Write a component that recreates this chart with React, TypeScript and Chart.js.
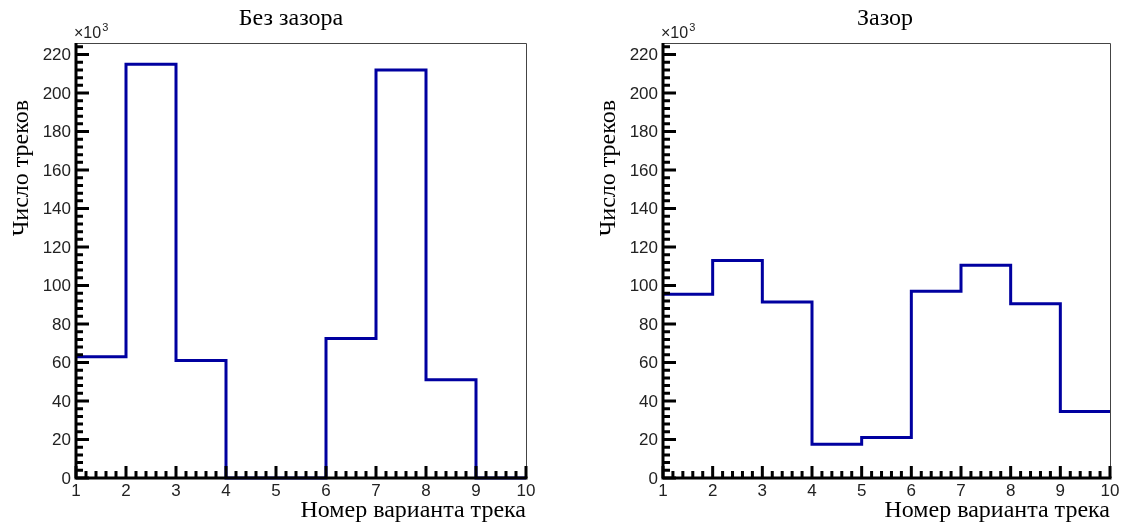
import React, { useEffect, useRef } from "react";
import { Chart, registerables } from "chart.js";

Chart.register(...registerables);

// Histogram bin edges (track variant number) and counts (×10^3)
const binEdges = [1, 2, 3, 4, 5, 6, 7, 8, 9, 10];
const noGapCounts = [63, 215, 61, 0, 0, 72.5, 212, 51, 0];
const gapCounts = [95.5, 113, 91.5, 17.5, 21, 97, 110.5, 90.5, 34.5];
const xTickLabels = ["1", "2", "3", "4", "5", "6", "7", "8", "9", "10"];
const yTickLabels = ["0", "20", "40", "60", "80", "100", "120", "140", "160", "180", "200", "220"];
const panelTitles = ["Без зазора", "Зазор"];
const xAxisTitle = "Номер варианта трека";
const yAxisTitle = "Число треков";
const Y_MAX = 226;

type PanelProps = {
  left: number;
  width: number;
  height: number;
  padding: { left: number; right: number; top: number; bottom: number };
  title: string;
  titleX: number;
  counts: number[];
};

function Panel({ left, width, height, padding, title, titleX, counts }: PanelProps) {
  const ref = useRef<HTMLCanvasElement | null>(null);

  useEffect(() => {
    const canvas = ref.current;
    if (!canvas) return;
    const points = binEdges.map((x, i) => ({ x, y: counts[Math.min(i, counts.length - 1)] }));

    const rootAxes = {
      id: "rootAxes",
      afterDatasetsDraw(chart: any) {
        const ctx = chart.ctx as CanvasRenderingContext2D;
        const xs = chart.scales.x;
        const ys = chart.scales.y;
        const a = chart.chartArea;
        const x0 = xs.getPixelForValue(binEdges[0]);
        const x1 = xs.getPixelForValue(binEdges[binEdges.length - 1]);
        const y0 = ys.getPixelForValue(0);
        const yTop = a.top;
        ctx.save();
        // thin frame (top, right)
        ctx.strokeStyle = "#444";
        ctx.lineWidth = 1;
        ctx.beginPath();
        ctx.moveTo(x0, yTop + 0.5);
        ctx.lineTo(Math.round(x1) + 0.5, yTop + 0.5);
        ctx.lineTo(Math.round(x1) + 0.5, y0);
        ctx.stroke();

        // thick axes
        ctx.strokeStyle = "#000";
        ctx.lineWidth = 3;
        ctx.beginPath();
        ctx.moveTo(x0 - 1.5, y0);
        ctx.lineTo(x1 + 1.5, y0);
        ctx.moveTo(x0, y0 + 1.5);
        ctx.lineTo(x0, yTop);
        ctx.stroke();

        // x ticks (inward)
        ctx.lineWidth = 3;
        ctx.beginPath();
        for (let k = 0; k <= 45; k++) {
          const v = 1 + k * 0.2;
          const px = xs.getPixelForValue(v);
          const len = k % 5 === 0 ? 12 : 7;
          ctx.moveTo(px, y0);
          ctx.lineTo(px, y0 - len);
        }
        // y ticks (inward)
        for (let k = 0; k <= 56; k++) {
          const v = k * 4;
          const py = ys.getPixelForValue(v);
          const len = k % 5 === 0 ? 13 : 7;
          ctx.moveTo(x0, py);
          ctx.lineTo(x0 + len, py);
        }
        ctx.stroke();

        // tick labels
        ctx.fillStyle = "#222";
        ctx.font = "17px 'Liberation Sans', Arial, sans-serif";
        ctx.textAlign = "right";
        ctx.textBaseline = "middle";
        yTickLabels.forEach((lab) => {
          const py = ys.getPixelForValue(Number(lab));
          ctx.fillText(lab, x0 - 5, py + 1);
        });
        ctx.textAlign = "center";
        ctx.textBaseline = "alphabetic";
        xTickLabels.forEach((lab) => {
          const px = xs.getPixelForValue(Number(lab));
          ctx.fillText(lab, px, y0 + 18);
        });

        // ×10^3
        ctx.textAlign = "left";
        ctx.font = "16px 'Liberation Sans', Arial, sans-serif";
        ctx.fillText("×10", x0 - 2, yTop - 5);
        const w = ctx.measureText("×10").width;
        ctx.font = "11px 'Liberation Sans', Arial, sans-serif";
        ctx.fillText("3", x0 - 2 + w + 1, yTop - 12);

        // titles
        ctx.fillStyle = "#000";
        ctx.font = "24px 'Liberation Serif', 'Times New Roman', serif";
        ctx.textAlign = "center";
        ctx.fillText(title, titleX, 25);

        ctx.textAlign = "right";
        ctx.fillText(xAxisTitle, x1, 517);

        ctx.translate(x0 - 54, 100);
        ctx.rotate(-Math.PI / 2);
        ctx.textAlign = "right";
        ctx.textBaseline = "middle";
        ctx.fillText(yAxisTitle, 0, 0);
        ctx.restore();
      },
    };

    const chart = new Chart(canvas, {
      type: "line",
      data: {
        datasets: [
          {
            data: points,
            stepped: "before",
            borderColor: "#0000a0",
            borderWidth: 3,
            borderJoinStyle: "miter",
            pointRadius: 0,
            fill: false,
            clip: false,
          } as any,
        ],
      },
      options: {
        responsive: false,
        animation: false,
        devicePixelRatio: 1,
        layout: { padding },
        plugins: { legend: { display: false }, tooltip: { enabled: false }, title: { display: false } },
        scales: {
          x: { type: "linear", min: 1, max: 10, display: false },
          y: { type: "linear", min: 0, max: Y_MAX, display: false },
        },
      },
      plugins: [rootAxes],
    });
    return () => chart.destroy();
  }, [counts, padding, title, titleX]);

  return (
    <canvas
      ref={ref}
      width={width}
      height={height}
      style={{ position: "absolute", left, top: 0, width, height }}
    />
  );
}

const leftPad = { left: 76, right: 34, top: 43, bottom: 50 };
const rightPad = { left: 103, right: 11, top: 43, bottom: 50 };

export default function App() {
  return (
    <div style={{ position: "fixed", left: 0, top: 0, width: 1121, height: 528, background: "#fff" }}>
      <Panel left={0} width={560} height={528} padding={leftPad} title={panelTitles[0]} titleX={291} counts={noGapCounts} />
      <Panel left={560} width={561} height={528} padding={rightPad} title={panelTitles[1]} titleX={325} counts={gapCounts} />
    </div>
  );
}
